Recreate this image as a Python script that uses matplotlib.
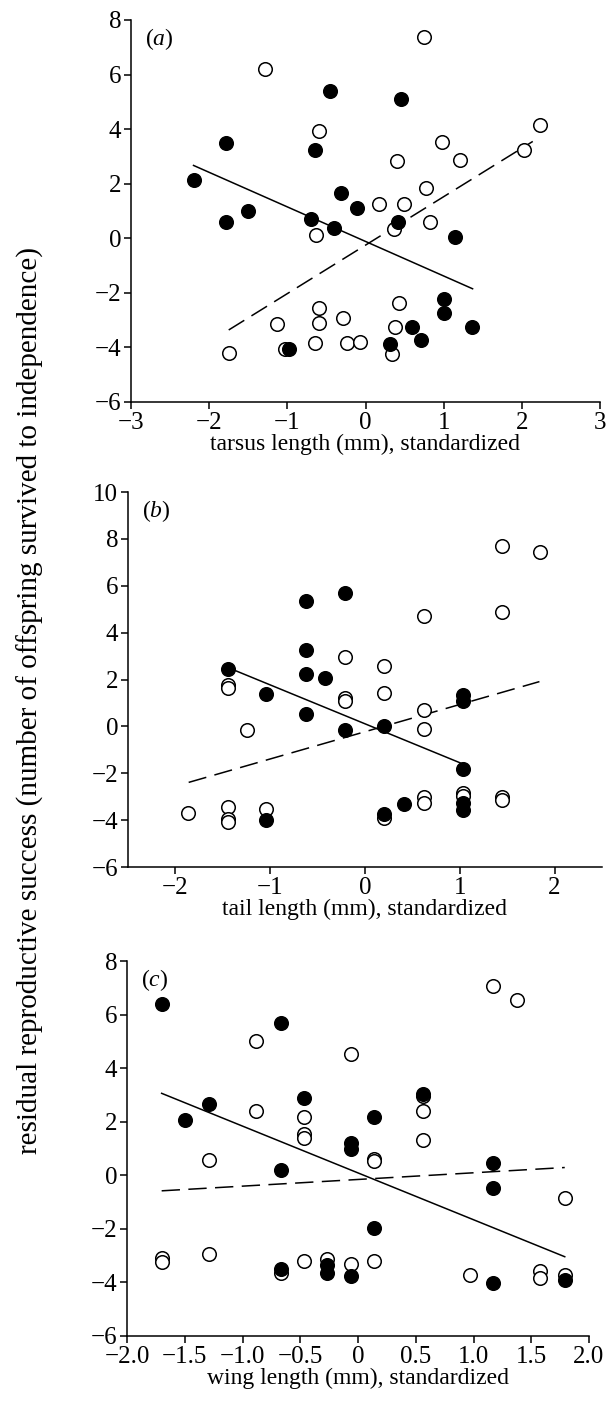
import matplotlib
matplotlib.use("Agg")
import matplotlib.pyplot as plt
import numpy as np

# panel (a): tarsus
tarsus_filled_x = [-2.2, -1.78, -1.78, -1.5, -0.98, -0.70, -0.65, -0.46, -0.40, -0.31,
                   -0.11, 0.31, 0.42, 0.46, 0.60, 0.71, 1.0, 1.0, 1.14, 1.36]
tarsus_filled_y = [2.12, 3.49, 0.6, 1.0, -4.06, 0.7, 3.22, 5.38, 0.36, 1.66,
                   1.12, -3.88, 0.58, 5.11, -3.25, -3.72, -2.22, -2.73, 0.04, -3.25]
tarsus_open_x = [-1.74, -1.29, -1.13, -1.03, -0.65, -0.63, -0.59, -0.59, -0.59, -0.29,
                 -0.24, -0.07, 0.17, 0.34, 0.36, 0.38, 0.40, 0.43, 0.49, 0.75,
                 0.77, 0.82, 0.98, 1.21, 2.03, 2.23]
tarsus_open_y = [-4.2, 6.2, -3.15, -4.06, -3.85, 0.12, 3.94, -2.57, -3.09, -2.91,
                 -3.85, -3.79, 1.26, -4.25, 0.33, -3.24, 2.82, -2.39, 1.26, 7.37,
                 1.83, 0.58, 3.52, 2.88, 3.24, 4.16]
tarsus_solid = ([-2.2, 1.37], [2.67, -1.85])
tarsus_dashed = ([-1.75, 2.14], [-3.36, 3.55])

# panel (b): tail
tail_filled_x = [-1.45, -1.04, -1.04, -0.62, -0.62, -0.62, -0.62, -0.42, -0.21, -0.21,
                 0.20, 0.20, 0.41, 1.03, 1.03, 1.03, 1.03, 1.03]
tail_filled_y = [2.45, 1.39, -3.99, 5.37, 3.25, 2.24, 0.54, 2.07, 5.69, -0.14,
                 0.03, -3.75, -3.33, 1.32, 1.10, -1.81, -3.26, -3.55]
tail_open_x = [-1.87, -1.45, -1.45, -1.45, -1.45, -1.45, -1.24, -1.04, -0.21, -0.21,
               -0.21, 0.20, 0.20, 0.20, 0.62, 0.62, 0.62, 0.62, 0.62, 1.03,
               1.03, 1.44, 1.44, 1.44, 1.44, 1.85]
tail_open_y = [-3.68, 1.78, 1.63, -3.46, -3.97, -4.09, -0.14, -3.54, 2.95, 1.22,
               1.08, 2.58, 1.43, -3.9, 4.70, 0.72, -0.13, -3.0, -3.26, -2.85,
               -2.97, 7.71, 4.87, -3.03, -3.12, 7.45]
tail_solid = ([-1.41, 1.03], [2.45, -1.6])
tail_dashed = ([-1.86, 1.84], [-2.39, 1.91])

# panel (c): wing
wing_filled_x = [-1.70, -1.50, -1.29, -0.67, -0.67, -0.67, -0.47, -0.27, -0.27, -0.06,
                 -0.06, -0.06, 0.14, 0.14, 0.56, 1.17, 1.17, 1.17, 1.79]
wing_filled_y = [6.39, 2.06, 2.65, 5.68, 0.19, -3.49, 2.89, -3.35, -3.64, 1.22,
                 0.97, -3.76, 2.19, -1.95, 3.05, 0.47, -0.46, -4.03, -3.91]
wing_open_x = [-1.70, -1.70, -1.29, -1.29, -0.88, -0.88, -0.67, -0.47, -0.47, -0.47,
               -0.47, -0.27, -0.06, -0.06, 0.14, 0.14, 0.14, 0.56, 0.56, 0.56,
               0.97, 1.17, 1.38, 1.58, 1.58, 1.79, 1.79]
wing_open_y = [-3.1, -3.23, 0.56, -2.94, 5.0, 2.40, -3.64, 2.19, 1.53, 1.40,
               -3.2, -3.14, 4.54, -3.33, 0.62, 0.55, -3.2, 2.95, 2.40, 1.32,
               -3.72, 7.07, 6.55, -3.56, -3.82, -0.83, -3.72]
wing_solid = ([-1.70, 1.79], [3.06, -3.04])
wing_dashed = ([-1.70, 1.79], [-0.58, 0.29])

plt.rcParams["font.family"] = ["Liberation Serif", "DejaVu Serif"]
plt.rcParams["mathtext.fontset"] = "custom"
plt.rcParams["mathtext.it"] = "Liberation Serif:italic"

fig = plt.figure(figsize=(6.08, 14.02), dpi=100)

panels = [
    dict(rect=[131 / 608, 1 - 402 / 1402, 469 / 608, 382 / 1402], tag="a",
         fx=tarsus_filled_x, fy=tarsus_filled_y, ox=tarsus_open_x, oy=tarsus_open_y,
         solid=tarsus_solid, dashed=tarsus_dashed,
         xlim=(-3, 3), xticks=[-3, -2, -1, 0, 1, 2, 3], ylim=(-6, 8),
         yticks=[-6, -4, -2, 0, 2, 4, 6, 8], xlabel="tarsus length (mm), standardized", fmt="{:g}"),
    dict(rect=[128 / 608, 1 - 867 / 1402, 474 / 608, 375 / 1402], tag="b",
         fx=tail_filled_x, fy=tail_filled_y, ox=tail_open_x, oy=tail_open_y,
         solid=tail_solid, dashed=tail_dashed,
         xlim=(-2.5, 2.5), xticks=[-2, -1, 0, 1, 2], ylim=(-6, 10),
         yticks=[-6, -4, -2, 0, 2, 4, 6, 8, 10], xlabel="tail length (mm), standardized", fmt="{:g}"),
    dict(rect=[127 / 608, 1 - 1336 / 1402, 462 / 608, 375 / 1402], tag="c",
         fx=wing_filled_x, fy=wing_filled_y, ox=wing_open_x, oy=wing_open_y,
         solid=wing_solid, dashed=wing_dashed,
         xlim=(-2, 2), xticks=[-2, -1.5, -1, -0.5, 0, 0.5, 1, 1.5, 2], ylim=(-6, 8),
         yticks=[-6, -4, -2, 0, 2, 4, 6, 8], xlabel="wing length (mm), standardized", fmt="{:.1f}"),
]

for p in panels:
    ax = fig.add_axes(p["rect"])
    ax.plot(p["solid"][0], p["solid"][1], color="black", lw=1.1, zorder=2)
    ax.plot(p["dashed"][0], p["dashed"][1], color="black", lw=1.1,
            dashes=(12, 5.5), zorder=2)
    ax.scatter(p["ox"], p["oy"], s=95, facecolors="white", edgecolors="black",
               linewidths=1.1, zorder=3)
    ax.scatter(p["fx"], p["fy"], s=95, facecolors="black", edgecolors="black",
               linewidths=1.1, zorder=4)
    ax.set_xlim(p["xlim"])
    ax.set_ylim(p["ylim"])
    ax.set_xticks(p["xticks"])
    ax.set_yticks(p["yticks"])
    fmt = p["fmt"]
    ax.set_xticklabels([fmt.format(t).replace("-", "\u2212") if t != 0 else "0"
                        for t in p["xticks"]])
    ax.set_yticklabels([str(t).replace("-", "\u2212") for t in p["yticks"]])
    for side in ["top", "right"]:
        ax.spines[side].set_visible(False)
    for side in ["left", "bottom"]:
        ax.spines[side].set_linewidth(1.1)
    ax.tick_params(direction="out", length=5, width=1.1, labelsize=18, pad=2)
    ax.set_xlabel(p["xlabel"], fontsize=17, labelpad=0)
    ax.text(0.03, 0.985, "($\\mathit{" + p["tag"] + "}$)", transform=ax.transAxes,
            fontsize=17, va="top", ha="left")

fig.text(0.05, 0.5, "residual reproductive success (number of offspring survived to independence)",
         rotation=90, ha="center", va="center", fontsize=21)

fig.savefig("out.png", dpi=100)
